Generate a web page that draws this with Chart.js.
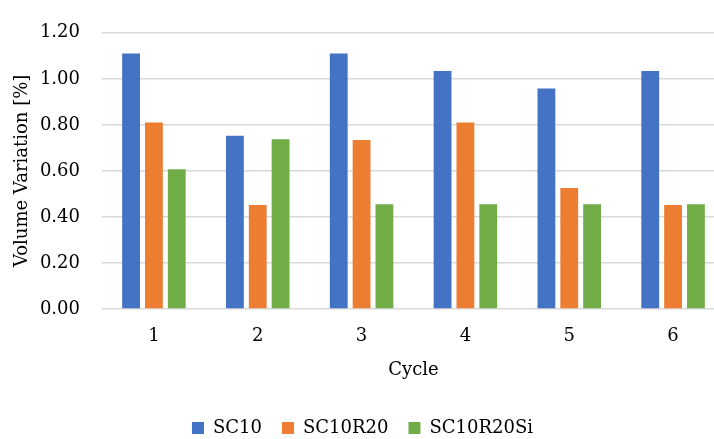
<!DOCTYPE html>
<html>
<head>
<meta charset="utf-8">
<script src="https://cdn.jsdelivr.net/npm/chart.js@4"></script>
<style>
    html, body { margin: 0; padding: 0; background: #fff; overflow: hidden; }
    #wrap { width: 737px; height: 447px; }
</style>
</head>
<body>
<div id="wrap"><canvas id="myChart" width="737" height="447"></canvas></div>
<script>
var cycles = ['1', '2', '3', '4', '5', '6'];
var sc10 = [1.11, 0.753, 1.11, 1.034, 0.958, 1.034];
var sc10r20 = [0.81, 0.452, 0.734, 0.81, 0.526, 0.452];
var sc10r20si = [0.607, 0.737, 0.455, 0.455, 0.455, 0.455];
var seriesNames = ['SC10', 'SC10R20', 'SC10R20Si'];
var seriesColors = ['#4472C4', '#ED7D31', '#70AD47'];

Chart.defaults.font.family = "'DejaVu Serif', serif";
Chart.defaults.font.size = 18;
Chart.defaults.color = '#000';

const ctx = document.getElementById('myChart');

new Chart(ctx, {
    type: 'bar',
    data: {
        labels: cycles,
        datasets: [sc10, sc10r20, sc10r20si].map(function (values, i) {
            return {
                label: seriesNames[i],
                data: values,
                backgroundColor: seriesColors[i],
                borderWidth: 0,
                categoryPercentage: 0.66,
                barPercentage: 0.78
            };
        })
    },
    options: {
        responsive: false,
        animation: false,
        layout: {
            padding: { top: 23, right: 12, bottom: 0, left: 0 }
        },
        plugins: {
            tooltip: { enabled: false },
            legend: {
                position: 'bottom',
                labels: {
                    boxWidth: 12,
                    boxHeight: 12,
                    padding: 20
                }
            }
        },
        scales: {
            x: {
                grid: { display: false, drawTicks: false },
                border: { display: false },
                ticks: { padding: 17 },
                title: {
                    display: true,
                    text: 'Cycle',
                    padding: { top: 0, bottom: 18 }
                },
                afterFit: function (scale) {
                    scale.height = 90; // leaves room for ticks and title
                }
            },
            y: {
                min: 0,
                max: 1.2,
                grid: { color: '#d9d9d9', lineWidth: 1.6, drawTicks: false },
                border: { display: false },
                ticks: {
                    stepSize: 0.2,
                    padding: 22,
                    callback: function (value) {
                        return value.toFixed(2);
                    }
                },
                title: {
                    display: true,
                    text: 'Volume Variation [%]',
                    padding: { top: 12, bottom: 0 }
                },
                afterFit: function (scale) {
                    scale.width = 102;
                }
            }
        }
    }
});
</script>
</body>
</html>
